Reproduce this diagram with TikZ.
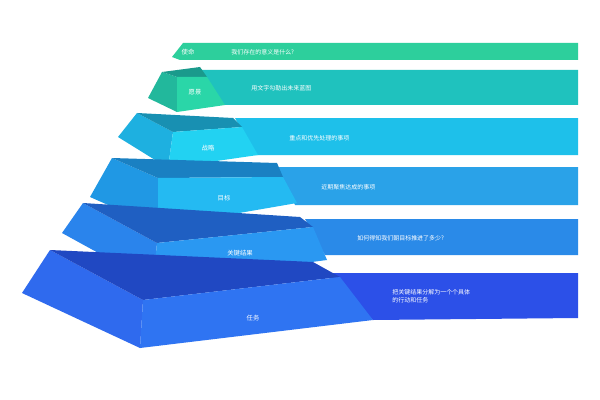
\documentclass[tikz,border=0pt]{standalone}
\usepackage{fontspec}
\newfontfamily\cjk{Noto Sans CJK SC}
\definecolor{mGreen}{HTML}{2DCF9C}
\definecolor{vRib}{HTML}{1FC2BE}\definecolor{vFront}{HTML}{2AD6A8}\definecolor{vTop}{HTML}{1A9A8C}\definecolor{vLeft}{HTML}{22B89C}
\definecolor{sRib}{HTML}{1EC0EA}\definecolor{sFront}{HTML}{22D2F2}\definecolor{sTop}{HTML}{1890B2}\definecolor{sLeft}{HTML}{1EB0E0}
\definecolor{gRib}{HTML}{2AA2E8}\definecolor{gFront}{HTML}{24BAF2}\definecolor{gTop}{HTML}{1A80C2}\definecolor{gLeft}{HTML}{2098E4}
\definecolor{kRib}{HTML}{2A8AE8}\definecolor{kFront}{HTML}{2A98F2}\definecolor{kTop}{HTML}{1F5FC2}\definecolor{kLeft}{HTML}{2A84EC}
\definecolor{tRib}{HTML}{2C50E8}\definecolor{tFront}{HTML}{2F74F2}\definecolor{tTop}{HTML}{2048C2}\definecolor{tLeft}{HTML}{2F6AEE}
\tikzset{
  lbl/.style={text=white, font=\cjk\fontsize{9}{11}\selectfont},
  desc/.style={text=white, font=\cjk\fontsize{8.5}{11}\selectfont, anchor=west, align=left},
}
\begin{document}
\begin{tikzpicture}[x=0.5mm, y=-0.5mm]
    \useasboundingbox[fill=white] (0,0) rectangle (600,400);

    % mission bar
    \fill[mGreen] (183,43) -- (578,43) -- (578,60) -- (180,60) -- (172,57) -- cycle;
    \node[lbl] (mission) at (188,52) {使命};
    \node[desc] (missionTxt) at (229,52) {我们存在的意义是什么?};

    % vision
    \fill[vRib] (195,70) -- (578,70) -- (578,105) -- (215,105) -- cycle;
    \fill[vLeft] (162,72) -- (177,77) -- (177,112) -- (148,98) -- cycle;
    \fill[vTop] (162,72) -- (200,67) -- (207,77) -- (177,77) -- cycle;
    \fill[vFront] (177,77) -- (207,77) -- (225,105) -- (177,112) -- cycle;
    \node[lbl] (vision) at (195,92) {愿景};
    \node[desc] (visionTxt) at (249,88) {用文字勾勒出未来蓝图};

    % strategy
    \fill[sRib] (235,118) -- (578,118) -- (578,155) -- (255,155) -- cycle;
    \fill[sLeft] (137,113) -- (173,132) -- (168,168) -- (118,137) -- cycle;
    \fill[sTop] (137,113) -- (233,118) -- (242,127) -- (173,132) -- cycle;
    \fill[sFront] (173,132) -- (242,127) -- (258,155) -- (168,168) -- cycle;
    \node[lbl] (strategy) at (208,148) {战略};
    \node[desc] (strategyTxt) at (287,138) {重点和优先处理的事项};

    % objective
    \fill[gRib] (278,167) -- (578,167) -- (578,205) -- (295,205) -- cycle;
    \fill[gLeft] (112,158) -- (158,178) -- (158,227) -- (90,197) -- cycle;
    \fill[gTop] (112,158) -- (277,163) -- (283,177) -- (158,178) -- cycle;
    \fill[gFront] (158,178) -- (283,177) -- (297,203) -- (158,227) -- cycle;
    \node[lbl] (objective) at (224,198) {目标};
    \node[desc] (objectiveTxt) at (319,187) {近期聚焦达成的事项};

    % key results
    \fill[kRib] (305,219) -- (578,219) -- (578,255) -- (325,255) -- cycle;
    \fill[kLeft] (83,203) -- (157,243) -- (153,283) -- (62,233) -- cycle;
    \fill[kTop] (83,203) -- (300,217) -- (313,227) -- (157,243) -- cycle;
    \fill[kFront] (157,243) -- (313,227) -- (327,260) -- (153,283) -- cycle;
    \node[lbl] (keyResult) at (240,253) {关键结果};
    \node[desc] (keyResultTxt) at (355,238) {如何得知我们朝目标推进了多少?};

    % tasks
    \fill[tRib] (325,273) -- (578,273) -- (578,318) -- (373,320) -- cycle;
    \fill[tLeft] (50,250) -- (143,300) -- (140,348) -- (22,293) -- cycle;
    \fill[tTop] (50,250) -- (313,262) -- (340,277) -- (143,300) -- cycle;
    \fill[tFront] (143,300) -- (340,277) -- (373,320) -- (140,348) -- cycle;
    \node[lbl] (task) at (253,318) {任务};
    \node[desc] (taskTxt) at (390,296) {把关键结果分解为一个个具体\\的行动和任务};

\end{tikzpicture}
\end{document}
